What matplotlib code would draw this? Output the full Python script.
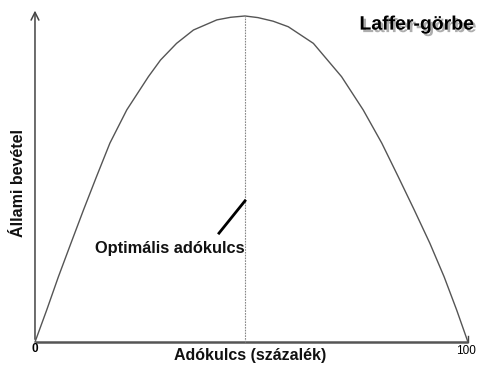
import matplotlib
matplotlib.use("Agg")
import matplotlib.pyplot as plt
import matplotlib.patheffects as pe

plt.rcParams['font.family'] = ['Liberation Sans', 'DejaVu Sans']

# adókulcs (%) és állami bevétel (a csúcs = 100)
adokulcs = [0, 2.7, 5.4, 8.3, 11.2, 14.2, 17.3, 21.2, 26.2, 29.0, 32.7, 36.6,
            42.0, 45.2, 48.5, 51.5, 55.0, 58.5, 64.3, 70.8, 75.8, 80.1, 83.9,
            87.6, 91.2, 94.5, 97.4, 100]
bevetel = [0, 9.8, 20.0, 30.3, 40.5, 50.7, 61.0, 71.2, 81.4, 86.5, 91.6, 95.7,
           98.8, 99.6, 100, 99.5, 98.4, 96.7, 91.6, 81.4, 71.2, 61.0, 50.7,
           40.5, 30.3, 20.0, 9.8, 0]
optimum = 48.5
tengely_cimkek = ['0', '100']

fig = plt.figure(figsize=(5, 3.75), dpi=100)
ax = fig.add_axes([0, 0, 1, 1])
ax.set_xlim(-8.08, 107.4)
ax.set_ylim(-10.1, 104.9)
ax.axis('off')

# tengelyek
ax.annotate('', xy=(0, 102.5), xytext=(0, 0),
            arrowprops=dict(arrowstyle='->', color='#444444', lw=1.1,
                            mutation_scale=14))
ax.plot([0, 100], [0, 0], color='#555555', lw=1.8, solid_capstyle='butt')
ax.plot([100, 100], [0, 2], color='#444444', lw=1)

# görbe és optimum
ax.plot(adokulcs, bevetel, color='#555555', lw=1)
ax.plot([optimum, optimum], [0, max(bevetel)], color='#888888', lw=0.8,
        linestyle=(0, (1.5, 1)))
ax.plot([42.5, optimum], [33.4, 43.3], color='black', lw=2)

ax.text(0, -2.1, tengely_cimkek[0], ha='center', va='center', fontsize=8.5,
        fontweight='bold')
ax.text(99.5, -2.8, tengely_cimkek[1], ha='center', va='center', fontsize=8.5)
ax.text(49.7, -4.0, 'Adókulcs (százalék)', ha='center', va='center',
        fontsize=11.5, fontweight='bold', color='#111111')
ax.text(-3.7, 48.8, 'Állami bevétel', ha='center', va='center', rotation=90,
        fontsize=11.5, fontweight='bold', color='#111111')
ax.text(31.1, 28.8, 'Optimális adókulcs', ha='center', va='center',
        fontsize=11.8, fontweight='bold', color='#111111')
ax.text(88.2, 97.2, 'Laffer-görbe', ha='center', va='center',
        fontsize=14, fontweight='bold', color='black',
        path_effects=[pe.SimplePatchShadow(offset=(1.8, -1.8),
                                           shadow_rgbFace='#999999', alpha=0.8),
                      pe.Normal()])

fig.savefig('out.png', dpi=100)
